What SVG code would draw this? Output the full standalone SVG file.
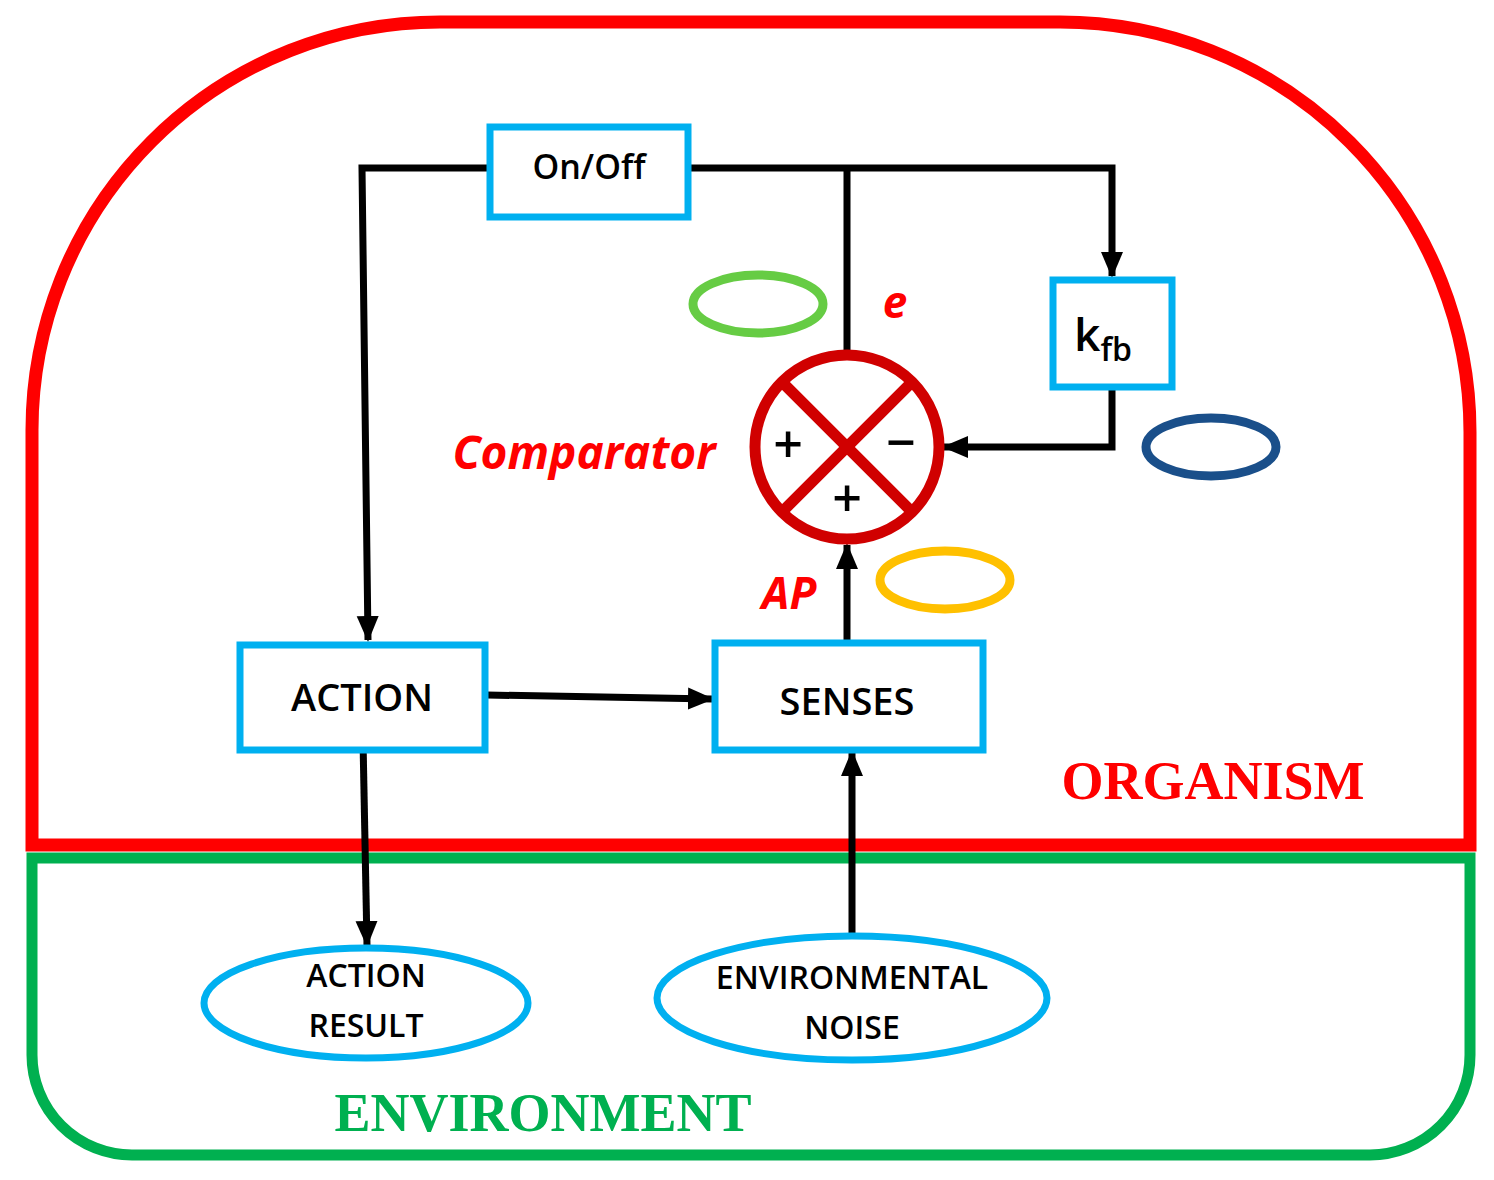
<svg xmlns="http://www.w3.org/2000/svg" width="1494" height="1180" viewBox="0 0 1494 1180">
<style>
.box{fill:#fff;stroke:#00b0f0;stroke-width:7}
.ln{fill:none;stroke:#000;stroke-width:7}
.t{font-family:"Open Sans",sans-serif;font-weight:600;fill:#000;text-anchor:middle}
.r{font-family:"Open Sans",sans-serif;font-weight:700;font-style:italic;fill:#ff0000;text-anchor:middle}
.s{font-family:"Liberation Serif",serif;font-weight:700;text-anchor:middle}
</style>
<defs>
<marker id="a" markerWidth="8" markerHeight="8" refX="7" refY="4" orient="auto" markerUnits="userSpaceOnUse" viewBox="0 0 8 8"><path d="M0,0L8,4L0,8z"/></marker>
<marker id="ah" markerWidth="26" markerHeight="26" refX="24" refY="13" orient="auto" markerUnits="userSpaceOnUse"><path d="M0,2L26,13L0,24z" fill="#000"/></marker>
</defs>
<g id="organism"><path d="M32,845 L32,430 A408,408 0 0 1 440,22 L1060,22 A410,410 0 0 1 1470,432 L1470,845 Z" fill="none" stroke="#ff0000" stroke-width="13"/>
<text class="s" x="1213" y="799" font-size="54" fill="#ff0000">ORGANISM</text></g>
<g id="environment"><path d="M32,858 L1470,858 L1470,1055 A100,100 0 0 1 1370,1155 L132,1155 A100,100 0 0 1 32,1055 Z" fill="none" stroke="#00b050" stroke-width="11"/>
<text class="s" x="543" y="1131" font-size="54" fill="#00b050">ENVIRONMENT</text></g>
<g id="connectors">
<path class="ln" d="M490,168 L362,168 L368,640" marker-end="url(#ah)"/>
<path class="ln" d="M688,168 L1112,168 L1112,276" marker-end="url(#ah)"/>
<path class="ln" d="M847,168 L847,354"/>
<path class="ln" d="M1112,388 L1112,447 L944,447" marker-end="url(#ah)"/>
<path class="ln" d="M847,643 L847,545" marker-end="url(#ah)"/>
<path class="ln" d="M487,695 L712,699" marker-end="url(#ah)"/>
<path class="ln" d="M363,740 L367,945" marker-end="url(#ah)"/>
<path class="ln" d="M852,942 L852,752" marker-end="url(#ah)"/>
</g>
<g id="onoff"><rect class="box" x="490" y="127" width="198" height="90"/><text class="t" x="589" y="179" font-size="34">On/Off</text></g>
<g id="kfb"><rect class="box" x="1053" y="280" width="119" height="107"/><text class="t" x="1103" y="351" font-size="46">k<tspan font-size="32" dy="10">fb</tspan></text></g>
<g id="action"><rect class="box" x="240" y="645" width="245" height="105"/><text class="t" x="362" y="711" font-size="38">ACTION</text></g>
<g id="senses"><rect class="box" x="715" y="643" width="268" height="107"/><text class="t" x="847" y="715" font-size="38">SENSES</text></g>
<g id="comparator">
<circle cx="847" cy="447" r="92" fill="#fff" stroke="#d00000" stroke-width="11"/>
<path d="M782,382L912,512M912,382L782,512" stroke="#d00000" stroke-width="11"/>
<text class="t" x="788" y="463" font-size="52">+</text>
<text class="t" x="901" y="461" font-size="52">−</text>
<text class="t" x="847" y="517" font-size="52">+</text>
<text class="r" x="584" y="469" font-size="46">Comparator</text>
<text class="r" x="895" y="318" font-size="44">e</text>
<text class="r" x="789" y="609" font-size="44">AP</text>
</g>
<g id="markers">
<ellipse cx="758" cy="304" rx="65" ry="29" fill="none" stroke="#66cc44" stroke-width="9"/>
<ellipse cx="1211" cy="447" rx="65" ry="29" fill="none" stroke="#1a4f8a" stroke-width="9"/>
<ellipse cx="945" cy="580" rx="65" ry="29" fill="none" stroke="#ffc000" stroke-width="9"/>
</g>
<g id="actionresult"><ellipse cx="366" cy="1003" rx="162" ry="55" fill="#fff" stroke="#00b0f0" stroke-width="7"/>
<text class="t" x="366" y="987" font-size="32">ACTION</text><text class="t" x="366" y="1037" font-size="32">RESULT</text></g>
<g id="noise"><ellipse cx="852" cy="998" rx="195" ry="62" fill="#fff" stroke="#00b0f0" stroke-width="7"/>
<text class="t" x="852" y="989" font-size="32">ENVIRONMENTAL</text><text class="t" x="852" y="1039" font-size="32">NOISE</text></g>
</svg>
